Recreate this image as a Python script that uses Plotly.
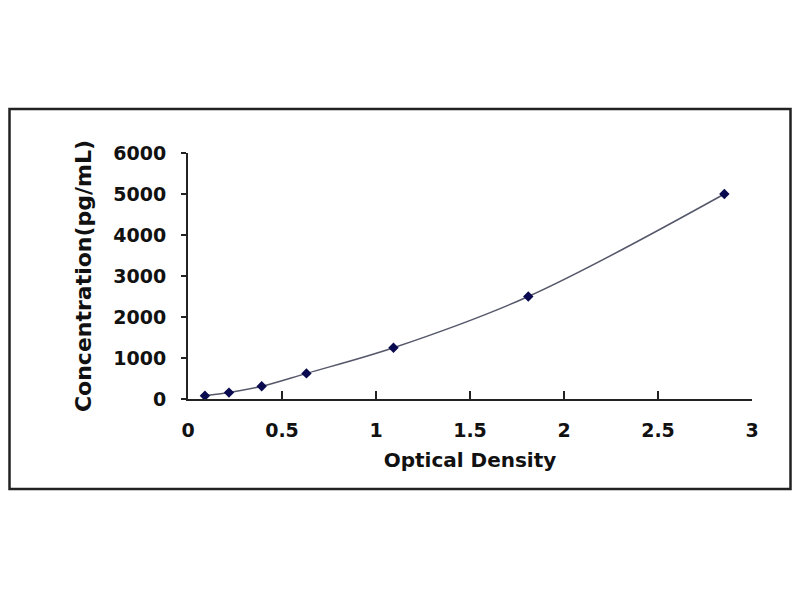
import plotly.graph_objects as go

# Data
optical_density = [0.09, 0.218, 0.392, 0.63, 1.093, 1.81, 2.853]
concentration = [78, 156, 312, 625, 1250, 2500, 5000]

x_ticks = [0, 0.5, 1, 1.5, 2, 2.5, 3]
x_tick_labels = ["0", "0.5", "1", "1.5", "2", "2.5", "3"]
y_ticks = [0, 1000, 2000, 3000, 4000, 5000, 6000]
y_tick_labels = ["0", "1000", "2000", "3000", "4000", "5000", "6000"]

FONT = "DejaVu Sans"
OFF = 8  # page body margin offset

fig = go.Figure()
fig.add_trace(go.Scatter(
    x=optical_density, y=concentration,
    mode="lines+markers",
    line=dict(shape="spline", color="#55586a", width=1.5),
    marker=dict(symbol="diamond", size=8, color="#0a0a50"),
    showlegend=False,
))

W, H = 784, 560
L, T = 188 - OFF, 153 - OFF
pw, ph = 564, 246
R = W - L - pw
B = H - T - ph

fig.update_layout(
    width=W, height=H,
    margin=dict(l=L, r=R, t=T, b=B, pad=0),
    paper_bgcolor="white", plot_bgcolor="white",
    font=dict(family=FONT, color="#111", size=18, weight="bold"),
    xaxis=dict(
        range=[0, 3], tickvals=x_ticks, ticktext=x_tick_labels,
        showgrid=False, zeroline=False,
        showline=True, linecolor="#222", linewidth=2,
        ticks="inside", ticklen=8, tickwidth=2, tickcolor="#222",
        ticklabelstandoff=13,
        tickfont=dict(family=FONT, size=19, weight="bold", color="#111"),
        title=dict(text="Optical Density", standoff=13,
                   font=dict(family=FONT, size=20, weight="bold", color="#111")),
    ),
    yaxis=dict(
        range=[0, 6000], tickvals=y_ticks, ticktext=y_tick_labels,
        showgrid=False, zeroline=False,
        showline=True, linecolor="#222", linewidth=2,
        ticks="outside", ticklen=5, tickwidth=2, tickcolor="#222",
        ticklabelstandoff=11,
        tickfont=dict(family=FONT, size=19, weight="bold", color="#111"),
        title=dict(text="Concentration(pg/mL)", standoff=16,
                   font=dict(family=FONT, size=22, weight="bold", color="#111")),
    ),
)

# outer frame (page coordinates converted to paper fractions)
fig.add_shape(
    type="rect", xref="paper", yref="paper",
    x0=(OFF + 1.5 - 188) / pw, x1=(OFF + W - 1.5 - 188) / pw,
    y0=(399 - 489) / ph, y1=(399 - 109) / ph,
    line=dict(color="#222", width=2.5), layer="below",
)

fig.write_html("out.html")
